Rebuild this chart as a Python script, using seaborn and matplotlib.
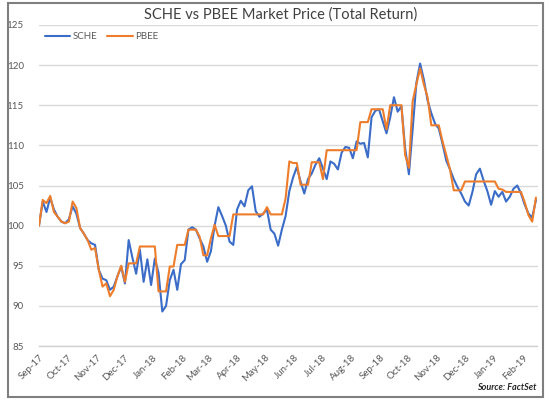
import numpy as np
import pandas as pd
import matplotlib
matplotlib.use("Agg")
import matplotlib.pyplot as plt
import matplotlib.dates as mdates
from matplotlib.patches import Rectangle
import seaborn as sns

start_date = "2017-09-01"
step_days = 4
sche = [
    100.0, 103.0, 101.7, 103.5, 102.0, 101.1, 100.5, 100.3, 100.8, 102.4,
    101.5, 99.7, 99.0, 98.2, 97.8, 97.6, 94.5, 93.4, 93.2, 92.0,
    92.4, 93.7, 94.9, 92.8, 98.2, 96.0, 94.0, 97.0, 93.0, 95.8,
    92.6, 95.9, 94.1, 89.3, 90.0, 93.2, 94.5, 92.0, 95.2, 95.7,
    99.5, 99.8, 99.5, 98.4, 97.4, 95.5, 96.8, 100.0, 102.3, 101.2,
    100.0, 98.0, 97.6, 102.0, 103.1, 102.4, 104.4, 104.9, 101.8, 101.1,
    101.5, 102.0, 99.5, 99.0, 97.5, 99.5, 101.2, 104.3, 106.0, 107.3,
    105.5, 104.0, 105.8, 106.5, 107.6, 108.4, 107.1, 105.8, 108.0, 107.7,
    107.0, 109.1, 109.8, 109.7, 108.4, 110.5, 110.2, 110.3, 108.5, 113.5,
    114.3, 114.5, 113.0, 111.5, 113.5, 116.0, 114.2, 114.9, 109.6, 106.4,
    112.0, 117.8, 120.2, 118.2, 115.6, 114.0, 112.7, 112.1, 110.2, 108.1,
    107.0, 105.8, 104.8, 104.0, 103.0, 102.5, 104.2, 106.4, 107.1, 105.6,
    104.3, 102.6, 104.3, 103.6, 104.2, 103.0, 103.6, 104.6, 105.0, 104.0,
    102.6, 101.5, 101.0, 103.2,
]
pbee = [
    100.0, 103.2, 102.8, 103.7, 101.7, 101.1, 100.5, 100.3, 100.5, 103.0,
    102.2, 99.7, 99.0, 98.2, 97.0, 97.2, 94.5, 92.4, 92.8, 91.2,
    92.0, 93.7, 95.0, 93.0, 95.3, 95.3, 95.3, 97.4, 97.4, 97.4,
    97.4, 97.4, 91.8, 91.8, 91.8, 94.9, 94.9, 97.6, 97.6, 97.6,
    99.5, 99.5, 99.5, 98.6, 96.3, 96.3, 98.4, 100.1, 98.7, 98.7,
    98.7, 98.7, 101.4, 101.4, 101.4, 101.4, 101.4, 101.4, 101.4, 101.4,
    101.4, 102.3, 101.4, 101.4, 101.4, 101.4, 103.4, 108.0, 107.8, 107.8,
    105.1, 105.1, 105.1, 107.9, 107.9, 107.9, 105.8, 109.4, 109.4, 109.4,
    109.4, 109.4, 109.4, 109.4, 109.4, 109.4, 112.9, 112.9, 112.9, 114.5,
    114.5, 114.5, 114.5, 112.0, 115.0, 115.0, 115.0, 115.0, 108.8, 107.2,
    115.5, 117.6, 119.6, 117.6, 116.0, 112.5, 112.5, 112.5, 110.5, 108.8,
    107.0, 104.4, 104.4, 104.4, 105.5, 105.5, 105.5, 105.5, 105.5, 105.5,
    105.5, 105.5, 105.5, 104.6, 104.5, 104.2, 104.2, 104.2, 104.2, 104.2,
    102.9, 101.3, 100.5, 103.5,
]
series_names = ["SCHE", "PBEE"]
yticks = [85, 90, 95, 100, 105, 110, 115, 120, 125]

dates = pd.date_range(start_date, periods=len(sche), freq=f"{step_days}D")
df = pd.DataFrame({"Date": dates, "SCHE": sche, "PBEE": pbee})
long = df.melt(id_vars="Date", var_name="Ticker", value_name="Price")

# ---- style ----
sns.set_style("white")
plt.rcParams["font.family"] = ["Lato", "DejaVu Sans"]

fig = plt.figure(figsize=(5.5, 4.03), dpi=100)
ax = fig.add_axes([39 / 550, 1 - 346 / 403, (537.5 - 39) / 550, (346 - 25) / 403])

palette = {"SCHE": "#3A6CC8", "PBEE": "#EE7D2B"}
sns.lineplot(data=long, x="Date", y="Price", hue="Ticker", hue_order=series_names,
             palette=palette, linewidth=1.5, ax=ax, sort=False, legend=False)

ax.set_xlim(pd.Timestamp("2017-09-01"), pd.Timestamp("2019-02-16 16:00"))
ax.set_ylim(85, 125)
ax.set_yticks(yticks)
ax.yaxis.grid(True, color="#D9D9D9", linewidth=1.0)
ax.set_axisbelow(True)
for s in ["top", "right", "left"]:
    ax.spines[s].set_visible(False)
ax.spines["bottom"].set_color("#D0D0D0")
ax.spines["bottom"].set_linewidth(1.0)

ax.xaxis.set_major_locator(mdates.MonthLocator())
ax.xaxis.set_major_formatter(mdates.DateFormatter("%b-%y"))
ax.tick_params(axis="x", length=3, color="#D0D0D0", labelsize=7, labelcolor="#595959", pad=2)
ax.tick_params(axis="y", length=0, labelsize=7, labelcolor="#595959", pad=11)
for lbl in ax.get_xticklabels():
    lbl.set_rotation(45)
    lbl.set_ha("right")
    lbl.set_va("top")
    lbl.set_rotation_mode("anchor")
ax.set_xlabel("")
ax.set_ylabel("")

# legend
handles = [plt.Line2D([], [], color=palette[n], linewidth=1.5) for n in series_names]
leg = ax.legend(handles, series_names, loc="upper left", bbox_to_anchor=(0.0, 0.995),
                ncol=2, frameon=False, fontsize=7, handlelength=2.6, handletextpad=0.3,
                columnspacing=1.0, borderaxespad=0.2)
for t in leg.get_texts():
    t.set_color("#595959")

fig.text(281 / 550, 1 - 15 / 403, "SCHE vs PBEE Market Price (Total Return)",
         ha="center", va="center", fontsize=10.5, color="#404040")
fig.text(536 / 550, 1 - 387 / 403, "Source: FactSet", ha="right", va="center",
         fontsize=6.5, fontweight="bold", fontstyle="italic", color="#262626")

# outer frame
fig.patches.append(Rectangle((8 / 550, 1 - 397 / 403), (543 - 8) / 550, (397 - 3) / 403,
                             transform=fig.transFigure, fill=False,
                             edgecolor="#7F7F7F", linewidth=1.5))

fig.savefig("out.png", dpi=100)
